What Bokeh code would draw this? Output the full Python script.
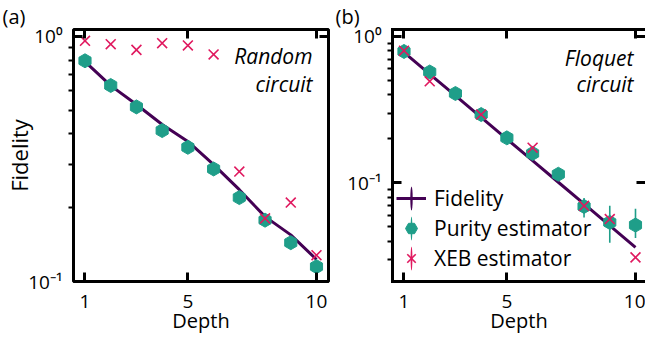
import numpy as np
from bokeh.plotting import figure
from bokeh.models import (FixedTicker, LinearAxis, LogAxis, Label, Legend, LegendItem, Title,
                          CustomJSTickFormatter, Range1d, GlobalInlineStyleSheet)
from bokeh.layouts import row
from bokeh.embed import file_html
from bokeh.resources import INLINE

# ---------------- data ----------------
depth = [1, 2, 3, 4, 5, 6, 7, 8, 9, 10]

a_fidelity = [0.79, 0.63, 0.528, 0.4375, 0.373, 0.30, 0.237, 0.184, 0.155, 0.123]
a_purity = [0.796, 0.631, 0.516, 0.413, 0.353, 0.288, 0.220, 0.178, 0.144, 0.115]
a_xeb = [0.96, 0.93, 0.882, 0.939, 0.919, 0.845, 0.281, 0.181, 0.210, 0.128]

b_fidelity = [0.778, 0.553, 0.394, 0.280, 0.199, 0.142, 0.101, 0.0718, 0.0511, 0.0363]
b_purity = [0.79, 0.572, 0.408, 0.293, 0.203, 0.159, 0.1146, 0.069, 0.0537, 0.0515]
b_purity_lo = [0.77, 0.555, 0.395, 0.283, 0.196, 0.153, 0.109, 0.058, 0.039, 0.042]
b_purity_hi = [0.81, 0.59, 0.42, 0.303, 0.21, 0.165, 0.12, 0.079, 0.0698, 0.0666]
b_xeb_depth = [1, 2, 4, 6, 8, 9, 10]
b_xeb = [0.80, 0.494, 0.293, 0.174, 0.0697, 0.0566, 0.031]

x_ticks = [1, 5, 10]
y_major = [0.1, 1.0]
y_minor = [0.02, 0.03, 0.04, 0.05, 0.06, 0.07, 0.08, 0.09,
           0.2, 0.3, 0.4, 0.5, 0.6, 0.7, 0.8, 0.9]

PURPLE = "#440154"
TEAL = "#1f9e89"
CRIMSON = "#e0195f"
FONT = "Open Sans"

sup_fmt = CustomJSTickFormatter(code="""
const e = Math.round(Math.log10(tick));
const sup = {'0':'\u2070','1':'\u00b9','2':'\u00b2','3':'\u00b3','-':'\u207b'};
return '10' + String(e).split('').map(c => sup[c]).join('');
""")


def blank_fmt():
    return CustomJSTickFormatter(code="return '';")


def make_panel(width, xr, yr, min_left, min_right, outline, tag, ylabel):
    p = figure(width=width, height=341, x_range=Range1d(*xr), y_range=Range1d(*yr),
               y_axis_type="log", output_backend="svg", toolbar_location=None,
               min_border_left=min_left, min_border_right=min_right,
               min_border_top=28, min_border_bottom=60)
    p.grid.visible = False
    p.background_fill_color = "white"
    p.border_fill_color = "white"
    if outline:
        p.outline_line_color = "black"
        p.outline_line_width = 3
    else:
        p.outline_line_color = None

    p.title = Title(text=tag, align="left", offset=-(min_left - 2), standoff=0,
                    text_font=FONT, text_font_size="20px", text_font_style="normal",
                    text_color="black")

    xa = p.xaxis[0]
    xa.ticker = FixedTicker(ticks=x_ticks)
    xa.major_tick_in = 9
    xa.major_tick_out = 0
    xa.major_tick_line_width = 3
    xa.minor_tick_line_color = None
    xa.major_label_text_font = FONT
    xa.major_label_text_font_size = "19px"
    xa.major_label_text_color = "black"
    xa.major_label_standoff = 13
    xa.axis_line_color = None if outline else "black"
    xa.axis_line_width = 3
    xa.axis_line_cap = "square"
    xa.axis_label = "Depth"
    xa.axis_label_text_font = FONT
    xa.axis_label_text_font_size = "20px"
    xa.axis_label_text_font_style = "normal"
    xa.axis_label_text_color = "black"
    xa.axis_label_standoff = -4

    ya = p.yaxis[0]
    ya.ticker = FixedTicker(ticks=y_major, minor_ticks=y_minor)
    ya.formatter = sup_fmt
    ya.major_tick_in = 9
    ya.major_tick_out = 0
    ya.major_tick_line_width = 3
    ya.minor_tick_in = 0
    ya.minor_tick_out = 5
    ya.minor_tick_line_width = 2
    ya.major_label_text_font = FONT
    ya.major_label_text_font_size = "19px"
    ya.major_label_text_color = "black"
    ya.major_label_standoff = 6
    ya.axis_line_color = None if outline else "black"
    ya.axis_line_width = 3
    ya.axis_line_cap = "square"
    if ylabel:
        ya.axis_label = ylabel
        ya.axis_label_text_font = FONT
        ya.axis_label_text_font_size = "22px"
        ya.axis_label_text_font_style = "normal"
        ya.axis_label_text_color = "black"
        ya.axis_label_standoff = -9

    top = LinearAxis(ticker=FixedTicker(ticks=x_ticks), formatter=blank_fmt(),
                     major_tick_in=9, major_tick_out=0,
                     major_tick_line_width=3, minor_tick_line_color=None,
                     major_label_standoff=0,
                     axis_line_color=None if outline else "black", axis_line_width=3,
                     axis_line_cap="square")
    p.add_layout(top, "above")
    right = LogAxis(ticker=FixedTicker(ticks=y_major, minor_ticks=[]), formatter=blank_fmt(),
                    major_tick_in=9, major_tick_out=0, major_tick_line_width=3,
                    minor_tick_line_color=None, major_label_standoff=0,
                    axis_line_color=None)
    p.add_layout(right, "right")
    return p


def add_label(p, text, x, y, size="21px", italic=False, align="center", angle=0.0):
    p.add_layout(Label(x=x, y=y, x_units="screen", y_units="screen", text=text,
                       text_font=FONT, text_font_size=size,
                       text_font_style="italic" if italic else "normal",
                       text_align=align, text_baseline="middle", angle=angle,
                       text_color="black"))


# ---------------- panel (a) ----------------
pa = make_panel(333, (0.553, 10.467), (0.1, 1.068), 73, 5, True, "(a)", "Fidelity")
pa.line(depth, a_fidelity, line_color=PURPLE, line_width=3)
pa.scatter(depth, a_purity, marker="hex", size=14, angle=np.pi / 2,
           fill_color=TEAL, line_color=TEAL)
pa.scatter(depth, a_xeb, marker="x", size=14, line_color=CRIMSON, line_width=1.6)
add_label(pa, "Random", 239, 226, italic=True, align="right")
add_label(pa, "circuit", 239, 198, italic=True, align="right")

# ---------------- panel (b) ----------------
pb = make_panel(312, (0.553, 10.389), (0.02121, 1.116), 59, 0, False, "(b)", None)
fid_r = pb.line(depth, b_fidelity, line_color=PURPLE, line_width=3)
pb.segment(x0=depth, y0=b_purity_lo, x1=depth, y1=b_purity_hi,
           line_color=TEAL, line_width=1.6)
pur_r = pb.scatter(depth, b_purity, marker="hex", size=14, angle=np.pi / 2,
                   fill_color=TEAL, line_color=TEAL)
xeb_r = pb.scatter(b_xeb_depth, b_xeb, marker="x", size=14, line_color=CRIMSON, line_width=1.6)

# legend-only proxies: thin upright strokes (error-bar symbol), nothing drawn on the axes
nan = [float("nan")]
bar_f = pb.ellipse(x=nan, y=nan, width=2.4, height=24, width_units="screen",
                   height_units="screen", fill_color=PURPLE, line_color=None)
bar_p = pb.ellipse(x=nan, y=nan, width=1.8, height=24, width_units="screen",
                   height_units="screen", fill_color=TEAL, line_color=None)
bar_x = pb.ellipse(x=nan, y=nan, width=1.8, height=24, width_units="screen",
                   height_units="screen", fill_color=CRIMSON, line_color=None)

legend = Legend(items=[
    LegendItem(label="Fidelity", renderers=[fid_r, bar_f]),
    LegendItem(label="Purity estimator", renderers=[bar_p, pur_r]),
    LegendItem(label="XEB estimator", renderers=[bar_x, xeb_r]),
], location=(4, 8), orientation="vertical", glyph_width=30, glyph_height=30,
    spacing=0, padding=0, margin=0, label_standoff=8,
    label_text_font=FONT, label_text_font_size="21px", label_text_color="black",
    border_line_color=None, background_fill_alpha=0)
pb.add_layout(legend, "center")

add_label(pb, "Floquet", 241, 224, italic=True, align="right")
add_label(pb, "circuit", 241, 198, italic=True, align="right")

layout = row(pa, pb)
layout.stylesheets = [GlobalInlineStyleSheet(css="html, body { margin: 0; padding: 0; overflow: hidden; }")]

open("out.html", "w").write(file_html(layout, INLINE))
